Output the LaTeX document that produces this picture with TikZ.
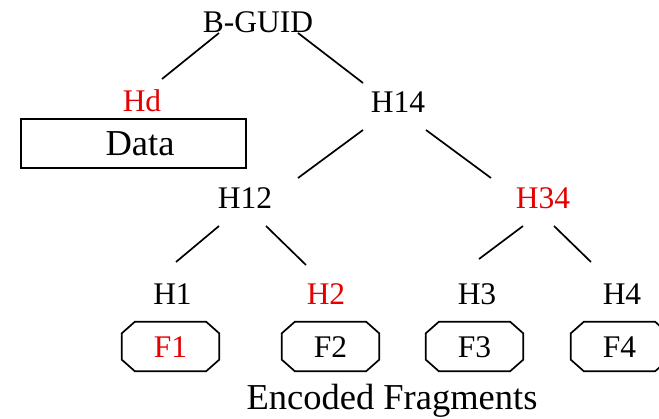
\documentclass[tikz,border=0pt]{standalone}
\usepackage{fontspec}
\setmainfont{Liberation Serif}
\usetikzlibrary{calc}
\definecolor{hashred}{RGB}{230,0,0}
\tikzset{
  lbl/.style={inner sep=0pt, anchor=base, font=\fontsize{31.5}{36}\selectfont},
  big/.style={inner sep=0pt, anchor=base, font=\fontsize{36.5}{42}\selectfont},
  hot/.style={text=hashred},
  edge/.style={line width=1.7pt, line cap=butt},
  frag/.style={line width=1.7pt, line join=miter},
}
\begin{document}
\begin{tikzpicture}[x=1pt, y=-1pt]
\useasboundingbox (0,0) rectangle (659,419);
\begin{scope}
\clip (0,0) rectangle (659,419);

% hash tree labels
\node[lbl] (bguid) at (258,33) {B-GUID};
\node[lbl,hot] (hd) at (142,112) {Hd};
\node[lbl] (h14) at (398,113) {H14};
\node[lbl] (h12) at (245,209) {H12};
\node[lbl,hot] (h34) at (543,209) {H34};
\node[lbl] (h1) at (172.5,305) {H1};
\node[lbl,hot] (h2) at (326,305) {H2};
\node[lbl] (h3) at (477,305) {H3};
\node[lbl] (h4) at (622,305) {H4};

% data block
\node[draw, line width=1.7pt, minimum width=225pt, minimum height=49pt, inner sep=0pt]
  (databox) at (133.5,143.5) {};
\node[big] (data) at (140,156) {Data};

% encoded fragments (chamfered boxes)
\foreach \nm/\cx/\txt/\col in {f1/170.5/F1/hashred, f2/330.5/F2/black, f3/474.5/F3/black, f4/619.5/F4/black}{
  \node[minimum width=97pt, minimum height=49pt, inner sep=0pt] (\nm) at (\cx,346.5) {};
  \draw[frag] ($(\nm.north west)+(13,0)$) -- ($(\nm.north east)+(-13,0)$)
    -- ($(\nm.north east)+(0,11.5)$) -- ($(\nm.south east)+(0,-11.5)$)
    -- ($(\nm.south east)+(-13,0)$) -- ($(\nm.south west)+(13,0)$)
    -- ($(\nm.south west)+(0,-11.5)$) -- ($(\nm.north west)+(0,11.5)$) -- cycle;
  \node[lbl, text=\col] (\nm t) at ($(\nm.center)+(0,11.5)$) {\txt};
}
\node[big] (caption) at (392,410) {Encoded Fragments};

% tree edges
\draw[edge] ($(bguid.base)+(-39,0)$) -- ($(hd.base)+(20,-33)$);
\draw[edge] ($(bguid.base)+(40,0)$) -- ($(h14.base)+(-35,-30)$);
\draw[edge] ($(h14.base)+(-35,17)$) -- ($(h12.base)+(53,-31)$);
\draw[edge] ($(h14.base)+(28,17)$) -- ($(h34.base)+(-52,-31)$);
\draw[edge] ($(h12.base)+(-26,17)$) -- ($(h1.base)+(3.5,-43)$);
\draw[edge] ($(h12.base)+(21,17)$) -- ($(h2.base)+(-20,-40)$);
\draw[edge] ($(h34.base)+(-20,17)$) -- ($(h3.base)+(2,-46)$);
\draw[edge] ($(h34.base)+(11,17)$) -- ($(h4.base)+(-31,-43)$);
\end{scope}
\end{tikzpicture}
\end{document}
